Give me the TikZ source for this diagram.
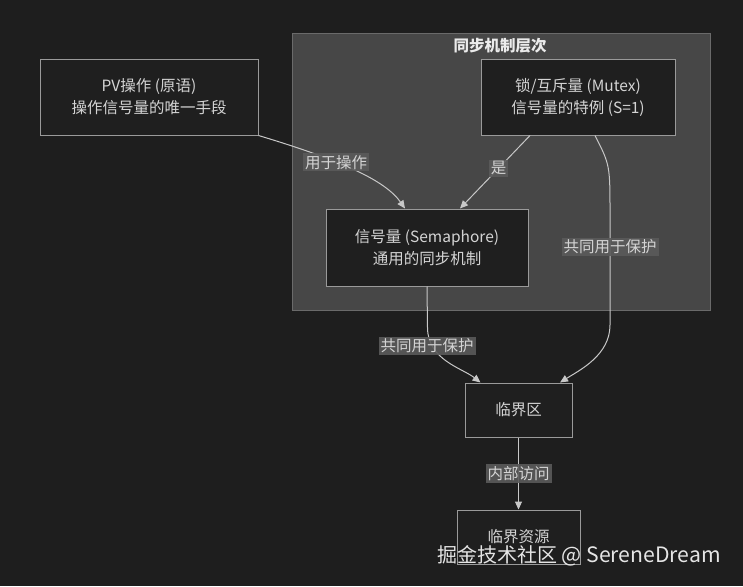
\documentclass[tikz,border=0pt]{standalone}
\usepackage{fontspec}
\setmainfont{Noto Sans CJK SC}
\usetikzlibrary{arrows.meta, positioning, backgrounds}
\definecolor{canvas}{HTML}{1E1E1E}
\definecolor{panel}{HTML}{474747}
\definecolor{panelline}{HTML}{6A6A6A}
\definecolor{boxfill}{HTML}{1F1F1F}
\definecolor{boxline}{HTML}{9A9A9A}
\definecolor{ink}{HTML}{D4D4D4}
\definecolor{wire}{HTML}{C8C8C8}
\definecolor{tagfill}{HTML}{5A5A5A}
\tikzset{
	block/.style={draw=boxline, line width=1pt, fill=boxfill, text=ink,
		align=center, inner sep=0pt, font=\fontsize{15.5}{22}\selectfont},
	tag/.style={fill=tagfill, fill opacity=0.9, text opacity=1, text=ink,
		inner sep=2pt, font=\fontsize{15.5}{18}\selectfont},
	wirearr/.style={-{Triangle[length=8pt,width=7pt]}, line width=1pt, wire},
}

\begin{document}
\begin{tikzpicture}[x=1pt, y=-1pt]
	\useasboundingbox[fill=canvas] (0,0) rectangle (743,586);
	% cluster
	\draw[fill=panel, draw=panelline, line width=1pt] (292,34) rectangle (710,310);
	\node[text=white!92!black, font=\fontsize{15.5}{18}\selectfont\bfseries] (title) at (500,46) {同步机制层次};
	% nodes
	\node[block, minimum width=218pt, minimum height=76pt] (pv) at (149,97) {PV操作 (原语)\\操作信号量的唯一手段};
	\node[block, minimum width=194pt, minimum height=76pt] (mutex) at (578,97) {锁/互斥量 (Mutex)\\信号量的特例 (S=1)};
	\node[block, minimum width=202pt, minimum height=77pt] (sem) at (427,247.5) {信号量 (Semaphore)\\通用的同步机制};
	\node[block, minimum width=107pt, minimum height=54pt] (crit) at (518.5,410) {临界区};
	\node[block, minimum width=123pt, minimum height=54pt] (res) at (518.5,537) {临界资源};
	% edges
	\draw[wirearr] (pv.south east) .. controls (340,160) and (385,180) .. ([xshift=-22pt]sem.north)
		node[tag, pos=0.38] {用于操作};
	\draw[wirearr] ([xshift=-48pt]mutex.south) -- node[tag, pos=0.45] {是} ([xshift=33pt]sem.north);
	\draw[wirearr] ([xshift=17pt]mutex.south) .. controls (610,165) .. (610,215) -- (610,325)
		.. controls (610,355) and (580,370) .. ([xshift=41.5pt]crit.north);
	\node[tag] (lblm) at (610,247) {共同用于保护};
	\draw[wirearr] (sem.south) -- (427.5,328) .. controls (428,360) and (462,368) .. ([xshift=-38pt]crit.north);
	\node[tag] (lbls) at (427,346) {共同用于保护};
	\draw[wirearr] (crit) -- node[tag] {内部访问} (res);
	% watermark
	\node[anchor=west, text=white!90!black, inner sep=0pt, font=\fontsize{20}{24}\selectfont] (wm) at (437,556) {掘金技术社区 {\fontsize{21.2}{24}\selectfont @ SereneDream}};
\end{tikzpicture}
\end{document}
